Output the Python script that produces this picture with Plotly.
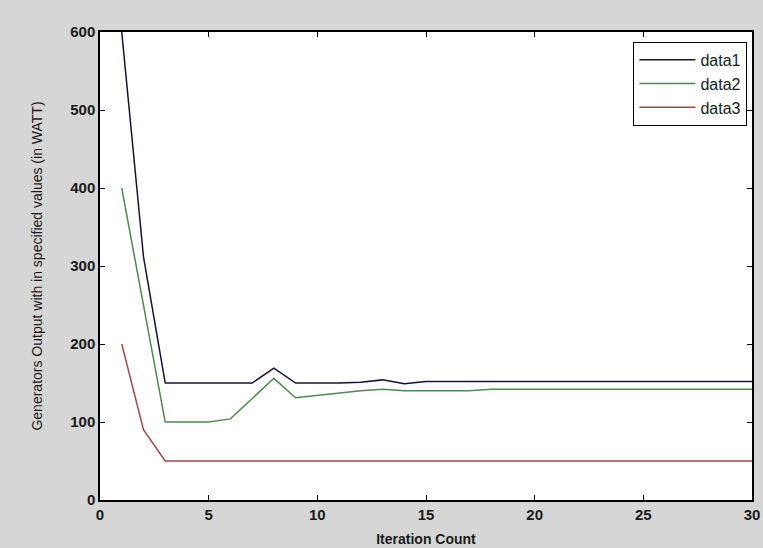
import plotly.graph_objects as go

iterations = list(range(1, 31))
data1 = [600, 312, 150, 150, 150, 150, 150, 169, 150, 150, 150, 151, 154, 149, 152,
         152, 152, 152, 152, 152, 152, 152, 152, 152, 152, 152, 152, 152, 152, 152]
data2 = [400, 250, 100, 100, 100, 104, 130, 156, 131, 134, 137, 140, 142, 140, 140,
         140, 140, 142, 142, 142, 142, 142, 142, 142, 142, 142, 142, 142, 142, 142]
data3 = [200, 90, 50, 50, 50, 50, 50, 50, 50, 50, 50, 50, 50, 50, 50,
         50, 50, 50, 50, 50, 50, 50, 50, 50, 50, 50, 50, 50, 50, 50]
names = ["data1", "data2", "data3"]
colors = ["#14143a", "#4f8a4f", "#a04848"]

fig = go.Figure()
for name, ys, c in zip(names, [data1, data2, data3], colors):
    fig.add_trace(go.Scatter(x=iterations, y=ys, mode="lines", name=name,
                             line=dict(color=c, width=1.5)))

font_family = "Liberation Sans, Arial, sans-serif"
fig.update_layout(
    width=763, height=548,
    margin=dict(l=100, r=11, t=32, b=48),
    paper_bgcolor="#d6d6d6",
    plot_bgcolor="white",
    font=dict(family=font_family, size=14, color="#1a1a1a"),
    showlegend=True,
    legend=dict(x=0.993, y=0.979, xanchor="right", yanchor="top",
                bgcolor="white", bordercolor="black", borderwidth=1,
                itemwidth=56,
                font=dict(size=16, color="#1a1a1a"), tracegroupgap=0),
)
fig.update_xaxes(range=[0, 30], tickvals=[0, 5, 10, 15, 20, 25, 30],
                 ticks="inside", ticklen=5, tickcolor="black",
                 showline=True, linecolor="black", linewidth=1.5, mirror="ticks",
                 showgrid=False, zeroline=False, automargin=False,
                 tickfont=dict(size=15, weight="bold"),
                 title=dict(text="Iteration Count", font=dict(size=14, weight="bold"), standoff=12))
fig.update_yaxes(range=[0, 600], tickvals=[0, 100, 200, 300, 400, 500, 600],
                 ticks="inside", ticklen=5, tickcolor="black",
                 showline=True, linecolor="black", linewidth=1.5, mirror="ticks",
                 showgrid=False, zeroline=False, automargin=False,
                 tickfont=dict(size=15, weight="bold"),
                 title=dict(text="Generators Output with in specified values (in WATT)",
                            font=dict(size=14), standoff=24))

fig.write_html(
    "out.html",
    config={"displayModeBar": False},
    post_script="document.body.style.margin='0';document.body.style.overflow='hidden';",
)
